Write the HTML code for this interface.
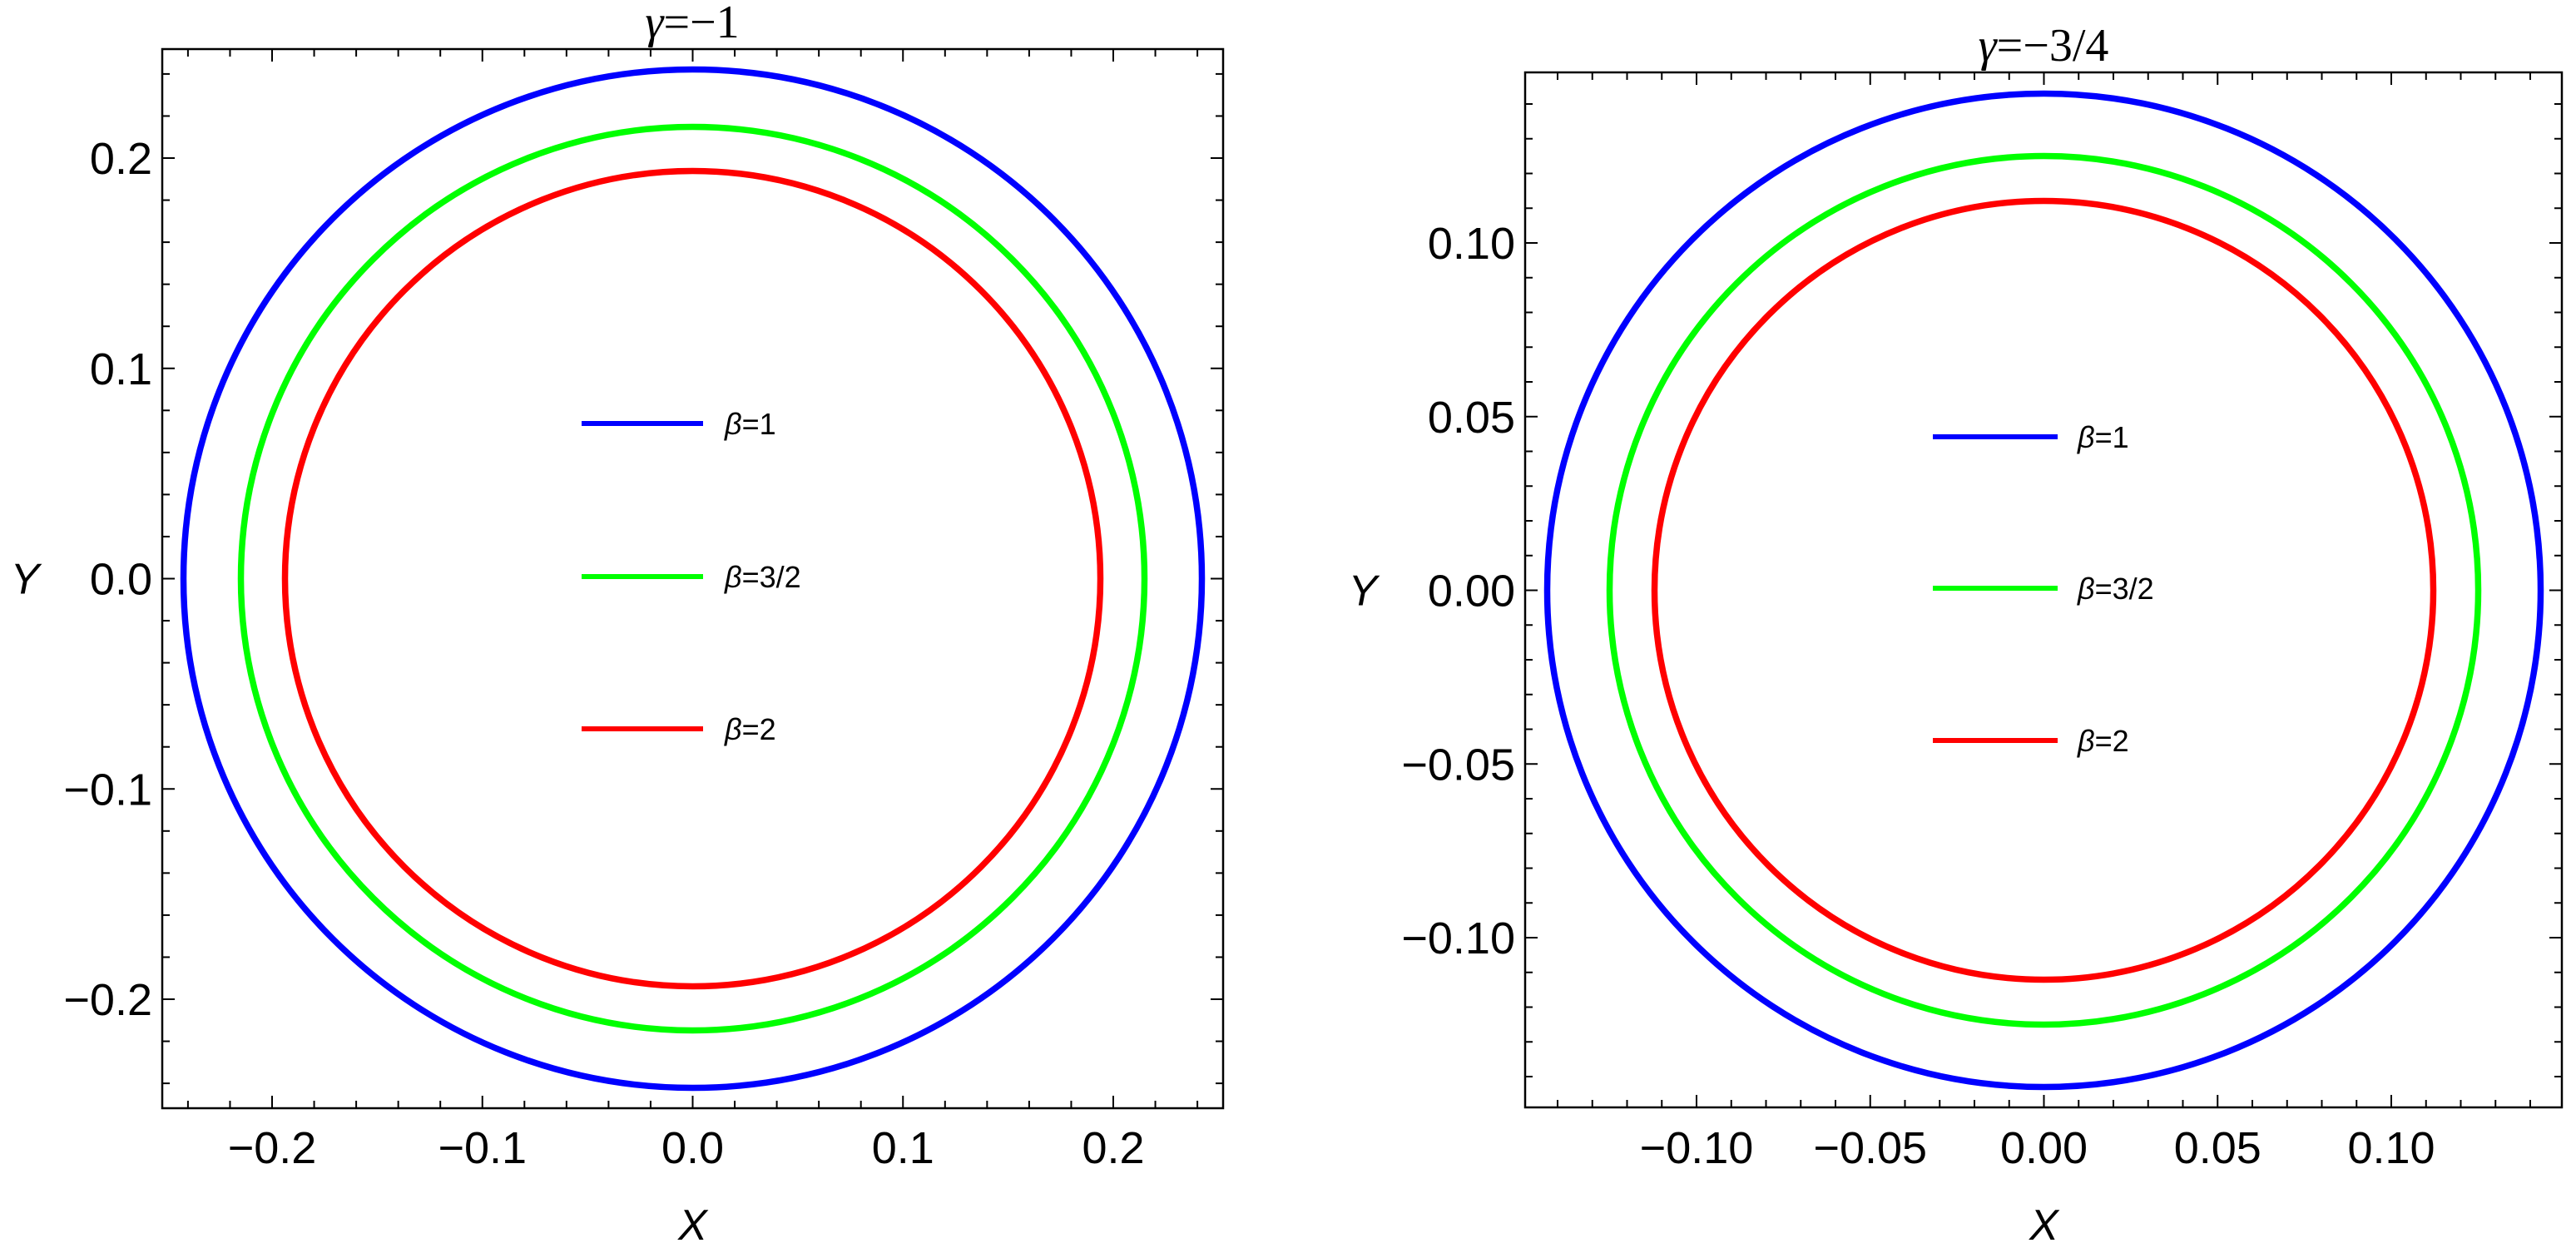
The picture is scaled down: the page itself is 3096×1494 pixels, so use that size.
<!DOCTYPE html>
<html><head><meta charset="utf-8"><style>
html,body{margin:0;padding:0;background:#fff;}
svg{display:block;}
</style></head><body>
<svg id="s" xmlns="http://www.w3.org/2000/svg" width="3096" height="1494" viewBox="0 0 3096 1494">
<rect width="3096" height="1494" fill="#fff"/>
<g id="g"></g>
</svg>
<script>
const g=document.getElementById('g');let h='';
function panel(p){
 const {L,R,T,B,x0,y0,sc,xmaj,xmin,labs,ylabs,radii,title,tx,legx,legy,txtx,Yx,Xy}=p;
 h+=`<rect x="${L}" y="${T}" width="${R-L}" height="${B-T}" fill="none" stroke="#000" stroke-width="2.5"/>`;
 for(let k=-40;k<=40;k++){
  const v=k*xmin; const px=x0+v*sc; const py=y0-v*sc;
  const major=Math.abs(Math.round(v/xmaj)*xmaj-v)<1e-9;
  const len=major?15:9;
  if(px>L+1&&px<R-1){h+=`<line x1="${px}" y1="${B}" x2="${px}" y2="${B-len}" stroke="#000" stroke-width="2"/><line x1="${px}" y1="${T}" x2="${px}" y2="${T+len}" stroke="#000" stroke-width="2"/>`;}
  if(py>T+1&&py<B-1){h+=`<line x1="${L}" y1="${py}" x2="${L+len}" y2="${py}" stroke="#000" stroke-width="2"/><line x1="${R}" y1="${py}" x2="${R-len}" y2="${py}" stroke="#000" stroke-width="2"/>`;}
 }
 for(const [v,s] of labs){h+=`<text x="${x0+v*sc}" y="${1398}" font-family="Liberation Sans,sans-serif" font-size="54" text-anchor="middle">${s}</text>`;}
 for(const [v,s] of ylabs){h+=`<text x="${L-12}" y="${y0-v*sc+19}" font-family="Liberation Sans,sans-serif" font-size="54" text-anchor="end">${s}</text>`;}
 const cols=['#0000ff','#00ff00','#ff0000'];
 radii.forEach((r,i)=>{h+=`<circle cx="${x0}" cy="${y0}" r="${r}" fill="none" stroke="${cols[i]}" stroke-width="7.5"/>`;});
 const nm=['=1','=3/2','=2'];
 legy.forEach((y,i)=>{h+=`<line x1="${legx[0]}" y1="${y}" x2="${legx[1]}" y2="${y}" stroke="${cols[i]}" stroke-width="6"/><text x="${txtx}" y="${y+13}" font-family="Liberation Sans,sans-serif" font-size="36"><tspan font-style="italic">β</tspan>${nm[i]}</text>`;});
 h+=`<text x="${tx}" y="${T-14}" font-family="Liberation Serif,serif" font-size="56" text-anchor="middle"><tspan font-style="italic">γ</tspan>=−${title}</text>`;
 h+=`<text x="${Yx}" y="${y0+18}" font-family="Liberation Sans,sans-serif" font-style="italic" font-size="52" text-anchor="middle">Y</text>`;
 h+=`<text x="${x0}" y="${Xy}" font-family="Liberation Sans,sans-serif" font-style="italic" font-size="52" text-anchor="middle">X</text>`;
}
panel({L:195,R:1470,T:59,B:1332,x0:832.5,y0:695.5,sc:2527.5,xmaj:0.1,xmin:0.02,
 labs:[[-0.2,'−0.2'],[-0.1,'−0.1'],[0,'0.0'],[0.1,'0.1'],[0.2,'0.2']],
 ylabs:[[-0.2,'−0.2'],[-0.1,'−0.1'],[0,'0.0'],[0.1,'0.1'],[0.2,'0.2']],
 radii:[612,543,490],title:'1',tx:832,legx:[699,845],legy:[509,693,876],txtx:871,Yx:30,Xy:1490});
panel({L:1833,R:3079,T:87,B:1331,x0:2456.5,y0:709.5,sc:4175,xmaj:0.05,xmin:0.01,
 labs:[[-0.1,'−0.10'],[-0.05,'−0.05'],[0,'0.00'],[0.05,'0.05'],[0.1,'0.10']],
 ylabs:[[-0.1,'−0.10'],[-0.05,'−0.05'],[0,'0.00'],[0.05,'0.05'],[0.1,'0.10']],
 radii:[597,522,468],title:'3/4',tx:2456,legx:[2323,2473],legy:[525,707,890],txtx:2497,Yx:1638,Xy:1490});
g.innerHTML=h;
</script>
</body></html>
